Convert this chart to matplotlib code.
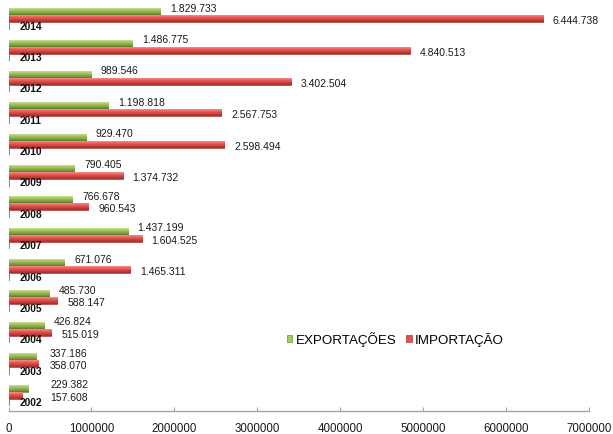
import numpy as np
import matplotlib
matplotlib.use("Agg")
import matplotlib.pyplot as plt
from matplotlib.patches import Patch
from matplotlib.colors import LinearSegmentedColormap

plt.rcParams['font.family'] = ['Liberation Sans', 'DejaVu Sans']

# Trade balance by year
years = [2002, 2003, 2004, 2005, 2006, 2007, 2008, 2009, 2010, 2011, 2012, 2013, 2014]
exportacoes = [229382, 337186, 426824, 485730, 671076, 1437199, 766678, 790405,
               929470, 1198818, 989546, 1486775, 1829733]
importacao = [157608, 358070, 515019, 588147, 1465311, 1604525, 960543, 1374732,
              2598494, 2567753, 3402504, 4840513, 6444738]
series_names = ['EXPORTAÇÕES', 'IMPORTAÇÃO']
x_ticks = [0, 1000000, 2000000, 3000000, 4000000, 5000000, 6000000, 7000000]

W, H = 613, 435
fig = plt.figure(figsize=(W / 100, H / 100), dpi=100)
ax = fig.add_axes([8.5 / W, 1 - 411.7 / H, (589 - 8.5) / W, (411.7 - 4) / H])

pos = np.arange(len(years))
h = 0.2234

green = '#9BBB59'
red = '#E5514D'
green_cmap = LinearSegmentedColormap.from_list(
    'g', ['#DDF0AE', '#B5D46C', '#9BBB59', '#7F9E42', '#5F7A2C'])
red_cmap = LinearSegmentedColormap.from_list(
    'r', ['#FBB3AF', '#F07470', '#E5514D', '#C63E3A', '#98302D'])


def shade(bars, cmap):
    grad = np.linspace(1, 0, 64).reshape(-1, 1)
    for b in bars:
        x0, y0 = b.get_x(), b.get_y()
        w, hh = b.get_width(), b.get_height()
        im = ax.imshow(grad, cmap=cmap, aspect='auto', interpolation='bilinear',
                       extent=(x0, x0 + w, y0, y0 + hh), origin='lower', zorder=2.5)
        im.set_clip_path(b)


bars_exp = ax.barh(pos + h, exportacoes, height=h, color=green,
                   edgecolor='#6E8B3D', linewidth=0.5, zorder=2)
bars_imp = ax.barh(pos, importacao, height=h, color=red,
                   edgecolor='#A93B38', linewidth=0.5, zorder=2)
shade(bars_exp, green_cmap)
shade(bars_imp, red_cmap)

# third series carries the year itself: a hairline bar with its value as label
ax.barh(pos - h, years, height=h * 1.15, color='#4F81BD', edgecolor='#4F81BD',
        linewidth=1.3, zorder=2)

fmt = lambda v: f"{v:,}".replace(",", ".")
label_floor = 380000
for p, e, i, yr in zip(pos, exportacoes, importacao, years):
    ax.annotate(fmt(e), xy=(max(e, label_floor), p + h), xytext=(10, 4),
                textcoords='offset pixels', ha='left', va='center',
                fontsize=7.5, color='#1a1a1a')
    ax.annotate(fmt(i), xy=(max(i, label_floor), p), xytext=(10, -1.5),
                textcoords='offset pixels', ha='left', va='center',
                fontsize=7.5, color='#1a1a1a')
    ax.annotate(str(yr), xy=(yr, p - h), xytext=(11, 0),
                textcoords='offset pixels', ha='left', va='center',
                fontsize=7.4, fontweight='bold', color='#111111')

ax.set_xlim(0, 7000000)
ax.set_ylim(-0.5, len(years) - 0.5)
ax.set_xticks(x_ticks)
ax.set_xticklabels([str(t) for t in x_ticks], fontsize=8.3, color='#1a1a1a')
ax.set_yticks([])
for s in ['top', 'right', 'left']:
    ax.spines[s].set_visible(False)
ax.spines['bottom'].set_color('#A6A6A6')
ax.spines['bottom'].set_linewidth(1.0)
ax.tick_params(axis='x', direction='in', length=3, color='#A6A6A6', pad=8)

handles = [Patch(facecolor='#A9CC5E', edgecolor='#6E8B3D', linewidth=0.5),
           Patch(facecolor='#E5514D', edgecolor='#A93B38', linewidth=0.5)]
ax.legend(handles, series_names, loc='center left', ncol=2, frameon=False,
          bbox_to_anchor=(287 / W, 1 - 340 / H), bbox_transform=fig.transFigure,
          fontsize=9.6, handlelength=0.4, handleheight=0.4, handletextpad=0.25,
          columnspacing=0.75, borderpad=0, borderaxespad=0)

fig.savefig('out.png', dpi=100)
